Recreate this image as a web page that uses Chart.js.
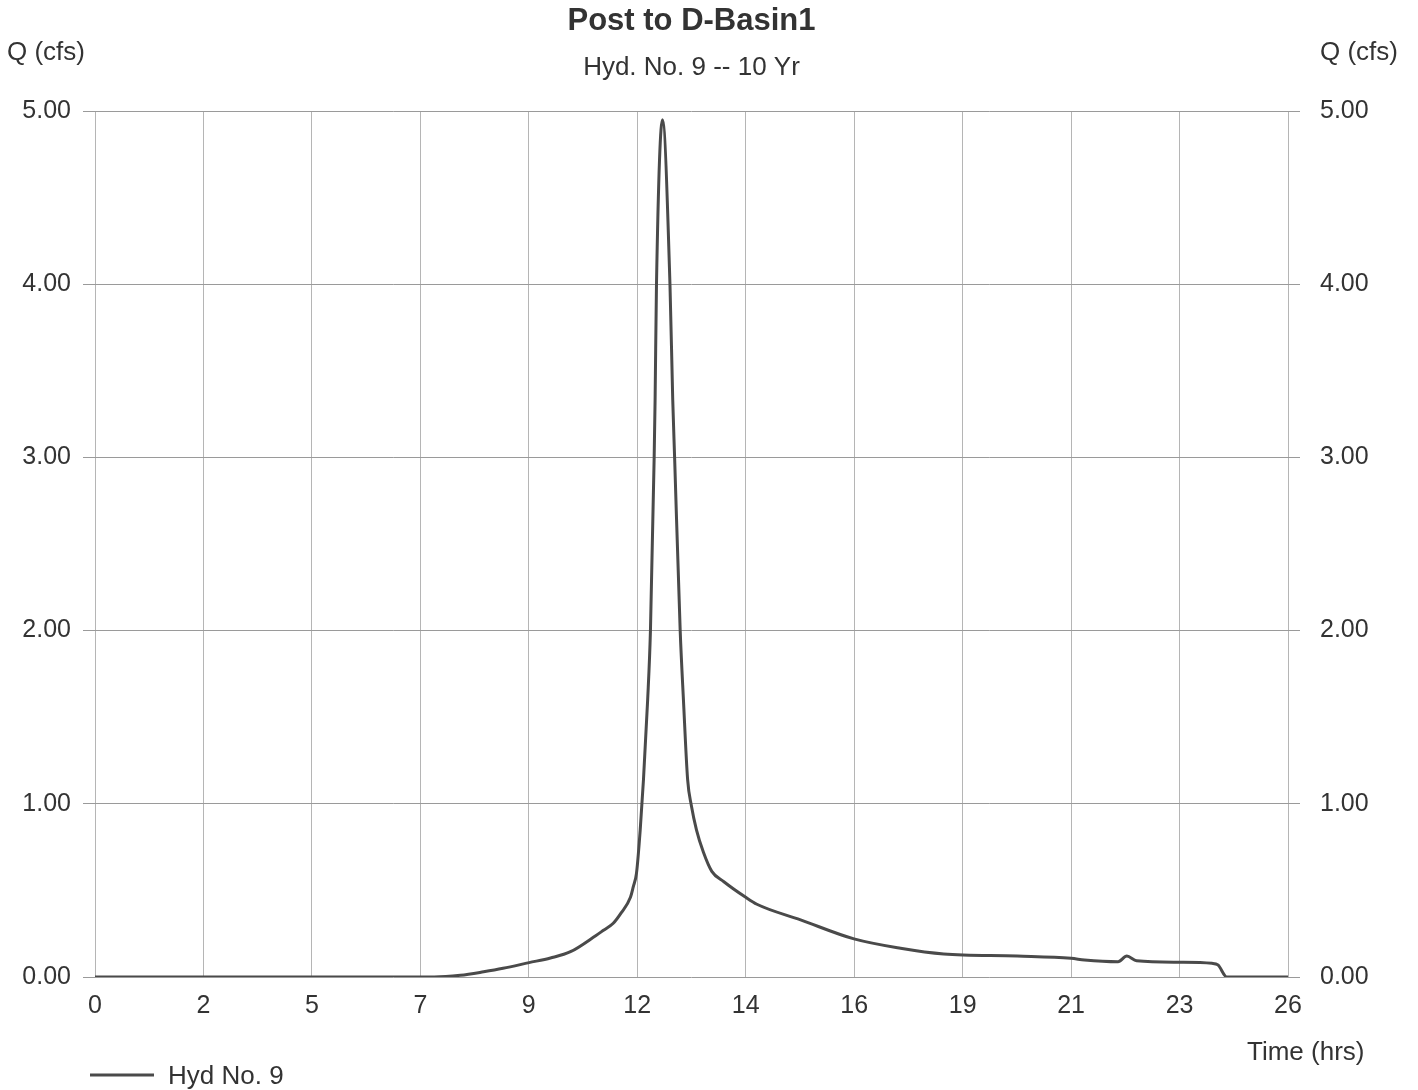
<!DOCTYPE html>
<html>
<head>
<meta charset="utf-8">
<script src="https://cdn.jsdelivr.net/npm/chart.js@4/dist/chart.umd.min.js"></script>
<style>
  html, body { margin: 0; padding: 0; background: #fff; }
  #wrap { width: 1418px; height: 1090px; }
</style>
</head>
<body>
<div id="wrap"><canvas id="hydChart" width="1418" height="1090"></canvas></div>
<script>
// hydrograph values
var timeHrs = [0, 7.3, 7.86, 8.36, 8.78, 9.34, 9.8, 10.23, 10.78, 10.94, 11.15, 11.32, 11.52, 11.58, 11.65,
  11.73, 11.80, 11.89, 11.95, 12.03, 12.05, 12.08, 12.21, 12.37, 12.43, 12.47, 12.59, 12.66, 12.75,
  12.83, 12.94, 13.09, 13.27, 13.53, 14.0, 14.24, 15.18, 16.33, 17.33, 18.26, 19.84, 21.0, 21.29,
  22.01, 22.2, 22.41, 23.33, 24.03, 24.16, 24.35, 25.67];
var flowCfs = [0, 0, 0.01, 0.03, 0.05, 0.083, 0.11, 0.146, 0.24, 0.27, 0.31, 0.37, 0.46, 0.52, 0.6,
  0.85, 1.14, 1.6, 2.0, 3.0, 3.33, 4.0, 4.95, 4.0, 3.33, 3.0, 2.0, 1.6, 1.14,
  0.99, 0.85, 0.72, 0.61, 0.55, 0.46, 0.42, 0.33, 0.22, 0.166, 0.133, 0.121, 0.108, 0.098,
  0.088, 0.121, 0.094, 0.085, 0.079, 0.07, 0, 0];

var xTickLabels = ['0', '2', '5', '7', '9', '12', '14', '16', '19', '21', '23', '26'];
var xTickStep = 7 / 3;
var yMin = 0, yMax = 5, yStep = 1;

var titleText = 'Post to D-Basin1';
var subTitleText = 'Hyd. No. 9 -- 10 Yr';
var seriesName = 'Hyd No. 9';

var fontFam = "'Liberation Sans', Arial, sans-serif";
var lineColor = '#4a4a4a';

var points = timeHrs.map(function (t, i) { return { x: t, y: flowCfs[i] }; });

// titles, axis captions and legend drawn around the chart area
var textPlugin = {
  id: 'hydTexts',
  afterDraw: function (chart) {
    var ctx = chart.ctx;
    var a = chart.chartArea;
    var cx = (a.left + a.right) / 2;
    ctx.save();
    ctx.fillStyle = '#333';
    ctx.textBaseline = 'alphabetic';
    ctx.textAlign = 'center';
    ctx.font = 'bold 31px ' + fontFam;
    ctx.fillText(titleText, cx, 30);
    ctx.font = '26px ' + fontFam;
    ctx.fillText(subTitleText, cx, 75);
    ctx.textAlign = 'left';
    ctx.fillText('Q (cfs)', 7, 60);
    ctx.fillText('Q (cfs)', 1320, 60);
    ctx.fillText('Time (hrs)', 1247, 1060);
    // legend
    var ds = chart.data.datasets[0];
    ctx.strokeStyle = ds.borderColor;
    ctx.lineWidth = ds.borderWidth;
    ctx.beginPath();
    ctx.moveTo(90, 1075);
    ctx.lineTo(154, 1075);
    ctx.stroke();
    ctx.fillText(ds.label, 168, 1084);
    ctx.restore();
  }
};

var ctx = document.getElementById('hydChart').getContext('2d');
var myChart = new Chart(ctx, {
  type: 'line',
  data: {
    datasets: [{
      label: seriesName,
      data: points,
      borderColor: lineColor,
      borderWidth: 3,
      pointRadius: 0,
      fill: false,
      cubicInterpolationMode: 'monotone'
    }]
  },
  options: {
    responsive: false,
    animation: false,
    devicePixelRatio: 1,
    layout: { padding: { top: 111, bottom: 68, left: 0, right: 0 } },
    plugins: {
      legend: { display: false },
      title: { display: false },
      tooltip: { enabled: false }
    },
    scales: {
      x: {
        type: 'linear',
        min: 0,
        max: xTickStep * (xTickLabels.length - 1),
        afterBuildTicks: function (scale) {
          scale.ticks = xTickLabels.map(function (l, i) { return { value: i * xTickStep }; });
        },
        afterFit: function (scale) { scale.height = 45; },
        grid: { color: '#b5b5b5', lineWidth: 1, drawTicks: false },
        border: { display: false },
        ticks: {
          autoSkip: false,
          maxRotation: 0,
          padding: 14,
          color: '#333',
          font: { family: fontFam, size: 25 },
          callback: function (v, i) { return xTickLabels[i]; }
        }
      },
      y: {
        type: 'linear',
        position: 'left',
        min: yMin,
        max: yMax,
        afterFit: function (scale) { scale.width = 95; },
        grid: { color: '#9a9a9a', lineWidth: 1, drawTicks: true, tickLength: 12 },
        border: { display: false },
        ticks: {
          stepSize: yStep,
          padding: 12,
          color: '#333',
          font: { family: fontFam, size: 25 },
          callback: function (v) { return v.toFixed(2); }
        }
      },
      y2: {
        type: 'linear',
        position: 'right',
        min: yMin,
        max: yMax,
        afterFit: function (scale) { scale.width = 130; },
        grid: { color: '#9a9a9a', lineWidth: 1, drawOnChartArea: false, drawTicks: true, tickLength: 12 },
        border: { display: false },
        ticks: {
          stepSize: yStep,
          padding: 20,
          color: '#333',
          font: { family: fontFam, size: 25 },
          callback: function (v) { return v.toFixed(2); }
        }
      }
    }
  },
  plugins: [textPlugin]
});
</script>
</body>
</html>
